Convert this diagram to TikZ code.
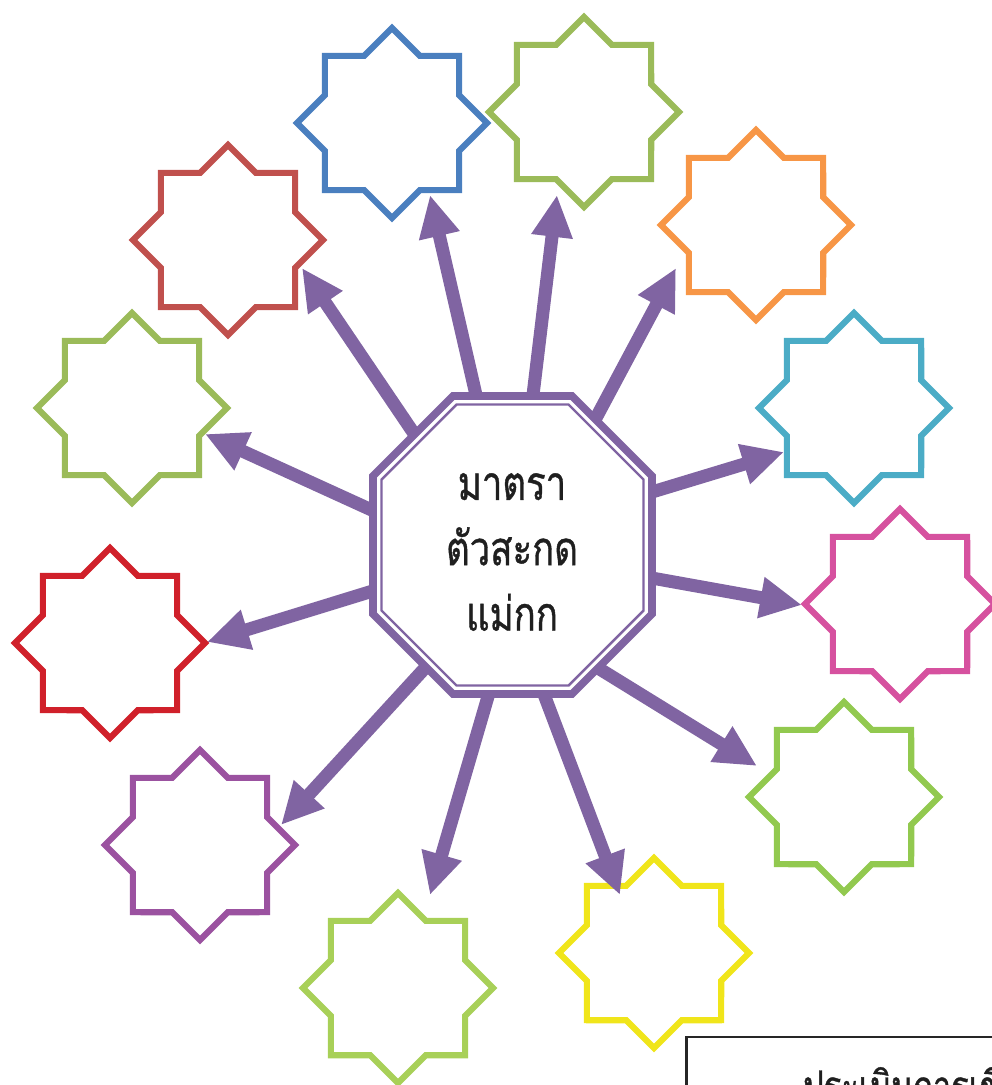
\documentclass[tikz,border=0pt]{standalone}
\usepackage{fontspec}
\newfontfamily\thaifont[Script=Thai, FakeStretch=0.77, FakeBold=0.8]{Loma}
\usetikzlibrary{arrows.meta,shapes.geometric}

\definecolor{roxo}{HTML}{8064A2}
\definecolor{azul}{HTML}{4A7FBF}
\definecolor{oliva}{HTML}{9BBB59}
\definecolor{laranja}{HTML}{F79646}
\definecolor{ciano}{HTML}{4BACC6}
\definecolor{rosa}{HTML}{D6519F}
\definecolor{verde}{HTML}{92C94F}
\definecolor{amarelo}{HTML}{F0E51A}
\definecolor{verdeClaro}{HTML}{A8D058}
\definecolor{violeta}{HTML}{9B52A0}
\definecolor{vermelho}{HTML}{D0202A}
\definecolor{tijolo}{HTML}{C0504D}

\begin{document}
\begin{tikzpicture}[x=0.02cm,y=-0.02cm]
\tikzset{
    estrela/.style={star, star points=8, star point ratio=1.3066,
                    minimum size=3.8cm, inner sep=0pt, line width=3.5pt, line join=miter},
    seta/.style={-{Triangle[length=23.8pt,width=22.1pt]}, line width=7.4pt, draw=roxo},
    octogono/.style={fill=white, draw=roxo, line width=4.3pt, line join=miter},
    octogonoInterno/.style={draw=roxo, line width=1.4pt, line join=miter},
    titulo/.style={font=\thaifont\fontsize{27}{37.2}\selectfont, align=center, text=black!88},
    quadro/.style={draw=black!85, line width=1.2pt}
}
\useasboundingbox (0,0) rectangle (991,1085);

% Estrelas
\node[estrela, draw=azul]       (e1)  at (392,123) {};
\node[estrela, draw=oliva]      (e2)  at (584,112) {};
\node[estrela, draw=laranja]    (e3)  at (756,225) {};
\node[estrela, draw=ciano]      (e4)  at (854,408) {};
\node[estrela, draw=rosa]       (e5)  at (900,604) {};
\node[estrela, draw=verde]      (e6)  at (844,797) {};
\node[estrela, draw=amarelo]    (e7)  at (654,953) {};
\node[estrela, draw=verdeClaro] (e8)  at (398,988) {};
\node[estrela, draw=violeta]    (e9)  at (200,845) {};
\node[estrela, draw=vermelho]   (e10) at (110,643) {};
\node[estrela, draw=oliva]      (e11) at (132,408) {};
\node[estrela, draw=tijolo]     (e12) at (228,240) {};

% Saidas das setas (sob o octogono)
\coordinate (q1)  at (480.5,414.5);
\coordinate (q2)  at (530.6,415);
\coordinate (q3)  at (586.6,435.6);
\coordinate (q4)  at (632.9,497.8);
\coordinate (q5)  at (632.3,574.5);
\coordinate (q6)  at (581,657.5);
\coordinate (q7)  at (537.9,678.3);
\coordinate (q8)  at (492.6,680.8);
\coordinate (q9)  at (438.5,653.3);
\coordinate (q10) at (395.1,584.1);
\coordinate (q11) at (394.2,520.3);
\coordinate (q12) at (428.2,454.6);

% Pontas das setas
\coordinate (p1)  at (430,195);
\coordinate (p2)  at (557,195);
\coordinate (p3)  at (676,268);
\coordinate (p4)  at (784,452);
\coordinate (p5)  at (802,605);
\coordinate (p6)  at (757,766);
\coordinate (p7)  at (620,895);
\coordinate (p8)  at (430,895);
\coordinate (p9)  at (281,825);
\coordinate (p10) at (207,642);
\coordinate (p11) at (205,434);
\coordinate (p12) at (302,268);

% Setas
\draw[seta] (q1)  -- (p1);
\draw[seta] (q2)  -- (p2);
\draw[seta] (q3)  -- (p3);
\draw[seta] (q4)  -- (p4);
\draw[seta] (q5)  -- (p5);
\draw[seta] (q6)  -- (p6);
\draw[seta] (q7)  -- (p7);
\draw[seta] (q8)  -- (p8);
\draw[seta] (q9)  -- (p9);
\draw[seta] (q10) -- (p10);
\draw[seta] (q11) -- (p11);
\draw[seta] (q12) -- (p12);

% Octogono central
\draw[octogono] (453,396) -- (572,396) -- (652,476) -- (652,614)
    -- (572,694) -- (453,694) -- (373,614) -- (373,476) -- cycle;
\draw[octogonoInterno] (456.5,404.5) -- (568.5,404.5) -- (643.5,479.5) -- (643.5,610.5)
    -- (568.5,685.5) -- (456.5,685.5) -- (381.5,610.5) -- (381.5,479.5) -- cycle;
\node[titulo] (mid) at (512,552) {มาตรา\\ตัวสะกด\\แม่กก};

% Quadro
\draw[quadro] (686.5,1037) rectangle (1010,1130);
\node[titulo, font=\thaifont\fontsize{24}{30}\selectfont, anchor=base west] (aval) at (797,1101) {ประเมินการเขียน};
\end{tikzpicture}
\end{document}
